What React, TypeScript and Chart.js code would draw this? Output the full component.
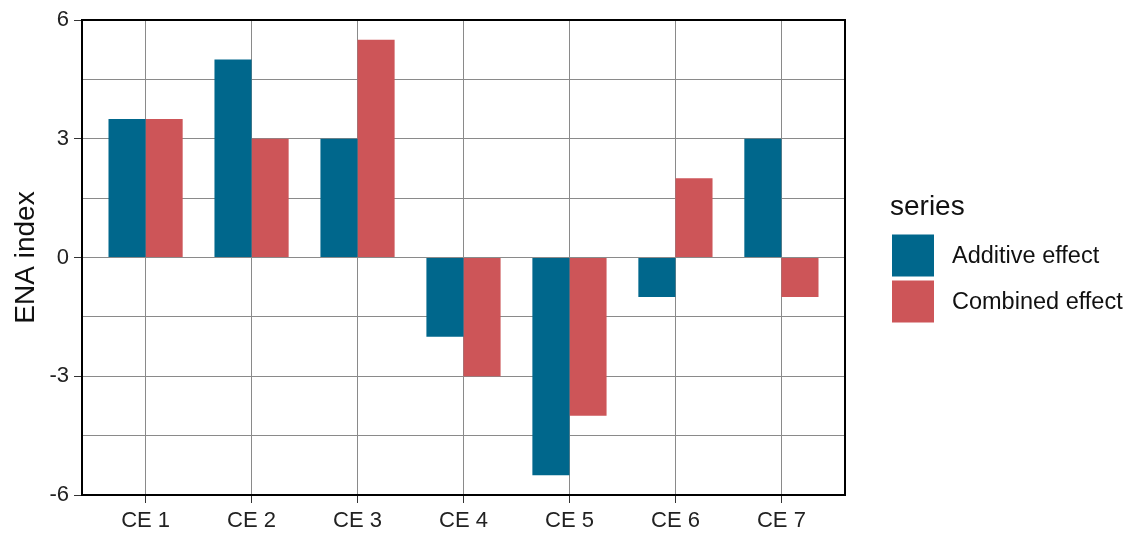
import React, { useEffect, useRef } from "react";
import { Chart, registerables } from "chart.js";

Chart.register(...registerables);

const categories = ["CE 1", "CE 2", "CE 3", "CE 4", "CE 5", "CE 6", "CE 7"];
const additiveEffect = [3.5, 5, 3, -2, -5.5, -1, 3];
const combinedEffect = [3.5, 3, 5.5, -3, -4, 2, -1];
const seriesNames = ["Additive effect", "Combined effect"];
const seriesColors = ["#00678c", "#cd5558"];
const legendTitle = "series";
const yTitle = "ENA index";

const FONT = "'Liberation Sans', Arial, Helvetica, sans-serif";

const panelAndLegend = {
  id: "panelAndLegend",
  afterDatasetsDraw(chart: any) {
    const { ctx, chartArea } = chart;
    ctx.save();
    ctx.strokeStyle = "#000";
    ctx.lineWidth = 2;
    ctx.strokeRect(
      chartArea.left,
      chartArea.top,
      chartArea.right - chartArea.left,
      chartArea.bottom - chartArea.top
    );
    ctx.restore();
  },
  afterDraw(chart: any) {
    const { ctx, chartArea } = chart;
    const cy = (chartArea.top + chartArea.bottom) / 2;
    const x0 = chartArea.right + 47;
    const key = 42;
    const gap = 4;
    ctx.save();
    ctx.fillStyle = "#111";
    ctx.font = `28px ${FONT}`;
    ctx.textBaseline = "alphabetic";
    ctx.textAlign = "left";
    ctx.fillText(legendTitle, x0 - 2, cy - 43);
    const firstTop = cy - 23;
    seriesNames.forEach((name, i) => {
      const top = firstTop + i * (key + gap);
      ctx.fillStyle = seriesColors[i];
      ctx.fillRect(x0, top, key, key);
      ctx.fillStyle = "#111";
      ctx.font = `23.5px ${FONT}`;
      ctx.textBaseline = "middle";
      ctx.fillText(name, x0 + key + 18, top + key / 2 + 1);
    });
    ctx.restore();
  },
};

export default function App() {
  const canvasRef = useRef<HTMLCanvasElement | null>(null);

  useEffect(() => {
    const canvas = canvasRef.current;
    if (!canvas) return;
    const chart = new Chart(canvas, {
      type: "bar",
      data: {
        datasets: [
          {
            label: seriesNames[0],
            data: additiveEffect.map((v, i) => ({ x: i + 1, y: v })),
            backgroundColor: seriesColors[0],
            borderWidth: 0,
          },
          {
            label: seriesNames[1],
            data: combinedEffect.map((v, i) => ({ x: i + 1, y: v })),
            backgroundColor: seriesColors[1],
            borderWidth: 0,
          },
        ],
      },
      options: {
        responsive: false,
        animation: false,
        events: [],
        layout: { padding: { top: 20, right: 285, left: 0, bottom: 0 } },
        datasets: {
          bar: { categoryPercentage: 0.7, barPercentage: 1.0 },
        },
        plugins: {
          legend: { display: false },
          tooltip: { enabled: false },
        },
        scales: {
          x: {
            type: "linear",
            min: 0.4,
            max: 7.6,
            offset: false,
            afterBuildTicks: (scale: any) => {
              scale.ticks = categories.map((_, i) => ({ value: i + 1 }));
            },
            afterFit: (scale: any) => {
              scale.height = 38;
            },
            border: { display: false },
            grid: {
              offset: false,
              color: "#8a8a8a",
              lineWidth: 1,
              tickLength: 8,
              tickColor: "#333",
            },
            ticks: {
              padding: 5,
              maxRotation: 0,
              autoSkip: false,
              color: "#222",
              font: { family: FONT, size: 22 },
              callback: (v: any) => categories[Math.round(Number(v)) - 1] ?? "",
            },
          },
          y: {
            type: "linear",
            min: -6,
            max: 6,
            afterFit: (scale: any) => {
              scale.width = 82;
            },
            border: { display: false },
            grid: {
              color: "#8a8a8a",
              lineWidth: 1,
              tickLength: 8,
              tickColor: (ctx: any) =>
                ctx.tick && Math.abs(ctx.tick.value % 3) < 1e-9 ? "#333" : "rgba(0,0,0,0)",
            },
            ticks: {
              stepSize: 1.5,
              padding: 5,
              color: "#222",
              font: { family: FONT, size: 22 },
              callback: (v: any) => {
                const n = Number(v);
                return Math.abs(n % 3) < 1e-9 ? String(n) : "";
              },
            },
            title: {
              display: true,
              text: yTitle,
              color: "#111",
              font: { family: FONT, size: 28 },
              padding: { top: 9, bottom: 0 },
            },
          },
        },
      },
      plugins: [panelAndLegend],
    } as any);
    return () => chart.destroy();
  }, []);

  return (
    <div style={{ position: "absolute", left: 0, top: 0, width: 1130, height: 533, background: "#fff" }}>
      <canvas ref={canvasRef} width={1130} height={533} style={{ display: "block" }} />
    </div>
  );
}
